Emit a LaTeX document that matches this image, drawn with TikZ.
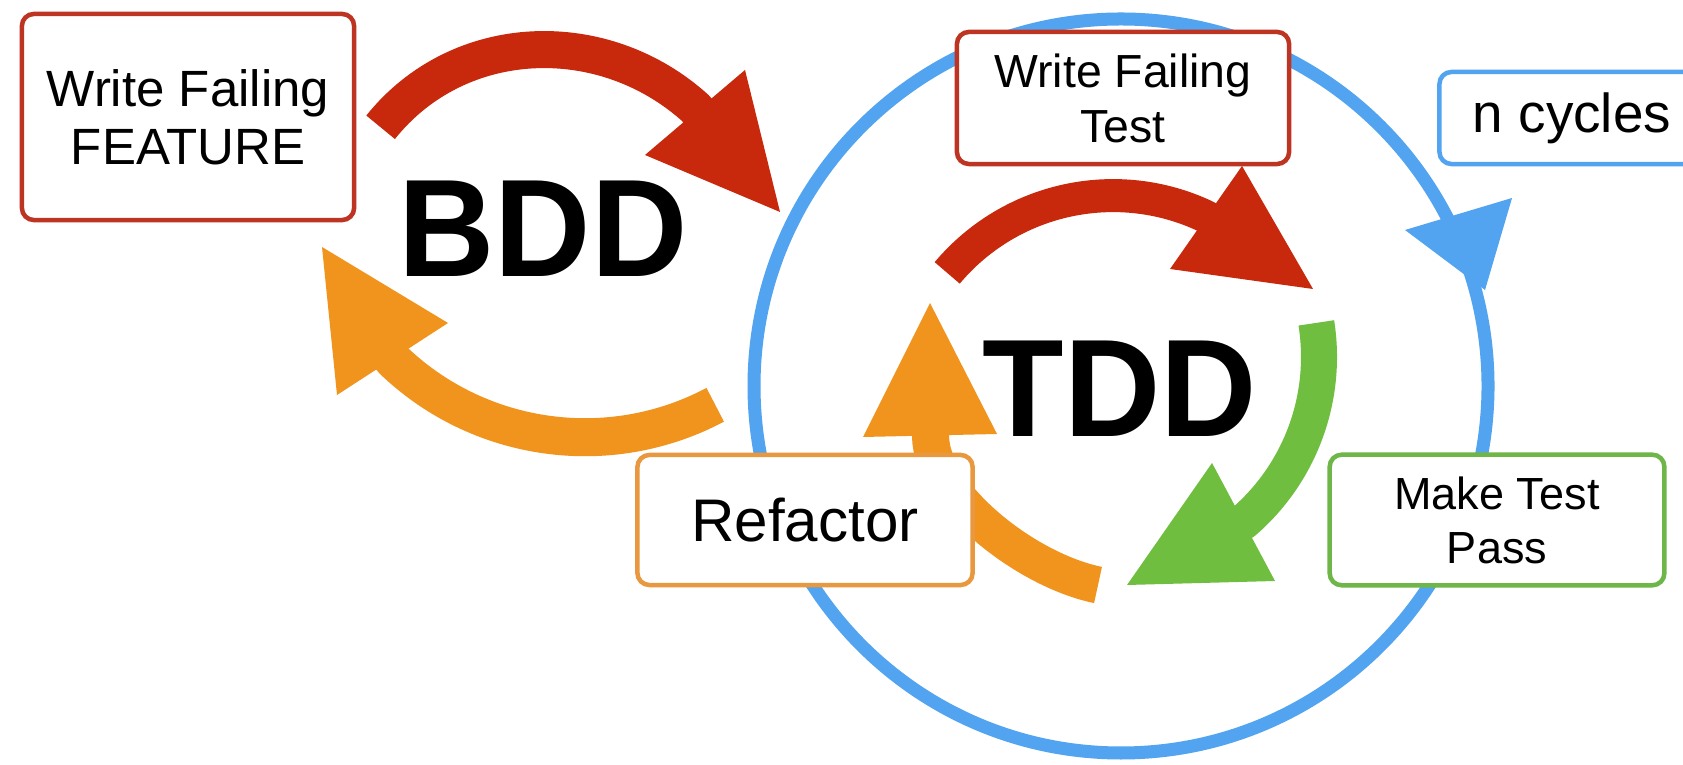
\documentclass[tikz,border=0pt]{standalone}
\usepackage{fontspec}
\setmainfont{Liberation Sans}
\definecolor{cRed}{RGB}{200,40,12}
\definecolor{cRedBox}{RGB}{190,52,34}
\definecolor{cOrange}{RGB}{240,148,30}
\definecolor{cOrangeBox}{RGB}{232,152,62}
\definecolor{cGreen}{RGB}{112,190,64}
\definecolor{cGreenBox}{RGB}{110,182,72}
\definecolor{cBlue}{RGB}{82,164,240}
\begin{document}
\begin{tikzpicture}[x=0.01cm,y=-0.01cm,
  stepbox/.style={draw, line width=0.045cm, rounded corners=0.12cm, fill=white,
    align=center, inner sep=0pt, text=black},
  arrbody/.style={line width=#1, line cap=butt, line join=round},
  bigword/.style={font=\bfseries\fontsize{39.5}{40}\selectfont, inner sep=0pt, anchor=base}
]
\useasboundingbox (0,0) rectangle (1683,765);
\fill[white] (0,0) rectangle (1683,765);
\begin{scope}
\clip (0,0) rectangle (1683,765);

% ---- blue outer cycle ----
\coordinate (cc) at (1121,386);
\draw[cBlue, line width=0.13cm] (cc) circle[radius=367];
\coordinate (bhA) at (1405,230);
\coordinate (bhB) at (1512,198);
\coordinate (bhT) at (1485,290);
\fill[cBlue] (bhA) -- (bhB) -- (bhT) -- cycle;

% ---- BDD red arrow ----
\coordinate (r1s) at (380.6,127.3);
\coordinate (r1e) at (696.3,108.9);
\coordinate (r1x) at (711,131.5);
\coordinate (r1a) at (745,70);
\coordinate (r1b) at (645,155);
\coordinate (r1t) at (780,212);
\draw[cRed, arrbody=0.37cm] (r1s) .. controls (458.7,29.6) and (603.6,24.6) .. (r1e) -- (r1x);
\fill[cRed] (r1a) -- (r1t) -- (r1b) -- cycle;

% ---- BDD orange arrow ----
\coordinate (o1s) at (715.2,404.8);
\coordinate (o1e) at (392.4,359.5);
\coordinate (o1x) at (379,338);
\coordinate (o1a) at (448,323);
\coordinate (o1b) at (337,395);
\coordinate (o1t) at (322,247);
\draw[cOrange, arrbody=0.38cm] (o1s) .. controls (609.2,461.1) and (478.7,442.9) .. (o1e) -- (o1x);
\fill[cOrange] (o1a) -- (o1t) -- (o1b) -- cycle;

% ---- TDD red arrow ----
\coordinate (r2s) at (947.2,272.9);
\coordinate (r2e) at (1206.2,216.7);
\coordinate (r2x) at (1227,231);
\coordinate (r2a) at (1242,166);
\coordinate (r2b) at (1170,269);
\coordinate (r2t) at (1313,289);
\draw[cRed, arrbody=0.33cm] (r2s) .. controls (1010.6,197.4) and (1117.2,174.2) .. (r2e) -- (r2x);
\fill[cRed] (r2a) -- (r2t) -- (r2b) -- cycle;

% ---- TDD green arrow ----
\coordinate (g2s) at (1316.3,322.9);
\coordinate (g2e) at (1243.4,522);
\coordinate (g2x) at (1221.5,534);
\coordinate (g2a) at (1212,463);
\coordinate (g2b) at (1275,581);
\coordinate (g2t) at (1127,585);
\draw[cGreen, arrbody=0.36cm] (g2s) .. controls (1328.1,397.4) and (1300.5,472.8) .. (g2e) -- (g2x);
\fill[cGreen] (g2a) -- (g2t) -- (g2b) -- cycle;

% ---- TDD orange arrow ----
\coordinate (o2s) at (1098,585);
\coordinate (o2e) at (930.5,436);
\coordinate (o2x) at (930.5,412);
\coordinate (o2a) at (863,437);
\coordinate (o2b) at (997,434);
\coordinate (o2t) at (930,303);
\draw[cOrange, arrbody=0.37cm] (o2s) .. controls (1025,570) and (931,495) .. (o2e) -- (o2x);
\fill[cOrange] (o2a) -- (o2t) -- (o2b) -- cycle;

% ---- boxes ----
\node[stepbox, draw=cRedBox, minimum width=3.32cm, minimum height=2.06cm,
  font=\fontsize{14.5}{16.5}\selectfont] (feature) at (188,117) {Write Failing\\FEATURE};
\node[stepbox, draw=cRedBox, minimum width=3.32cm, minimum height=1.32cm,
  font=\fontsize{13.2}{15.6}\selectfont] (wft) at (1123,98) {Write Failing\\Test};
\node[stepbox, draw=cBlue, minimum width=2.65cm, minimum height=0.92cm,
  font=\fontsize{15.6}{17}\selectfont] (ncyc) at (1572,118) {n cycles};
\node[stepbox, draw=cOrangeBox, minimum width=3.35cm, minimum height=1.30cm,
  font=\fontsize{17.1}{19}\selectfont] (refac) at (805,520) {Refactor};
\node[stepbox, draw=cGreenBox, minimum width=3.345cm, minimum height=1.305cm,
  font=\fontsize{12.8}{15.4}\selectfont] (mtp) at (1497,520) {Make Test\\Pass};

% ---- big labels ----
\node[bigword] (bdd) at (543,277) {\scalebox{0.96}[1]{BDD}};
\node[bigword] (tdd) at (1120,437) {\scalebox{0.96}[1]{TDD}};
\end{scope}
\end{tikzpicture}
\end{document}
